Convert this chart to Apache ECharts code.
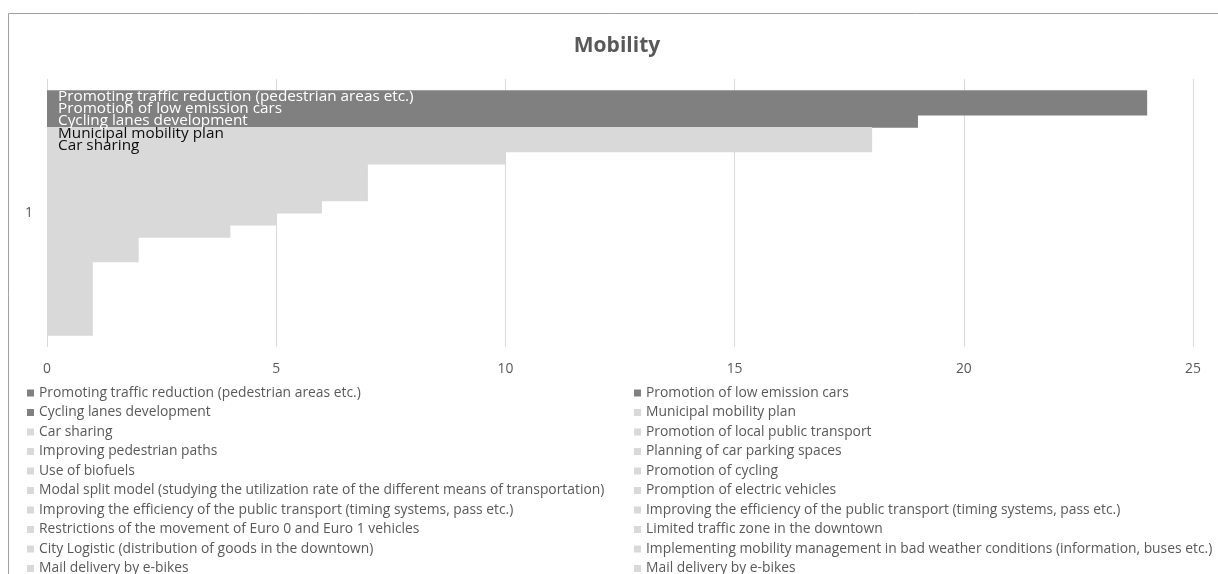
<!DOCTYPE html>
<html>
<head>
<meta charset="utf-8">
<script src="https://cdn.jsdelivr.net/npm/echarts@6/dist/echarts.min.js"></script>
<style>
  html, body { margin: 0; padding: 0; background: #ffffff; }
  #chart { width: 1218px; height: 574px; }
</style>
</head>
<body>
<div id="chart"></div>
<script>
const chartTitle = 'Mobility';
const categories = ['1'];
const seriesNames = [
  'Promoting traffic reduction (pedestrian areas etc.)',
  'Promotion of low emission cars',
  'Cycling lanes development',
  'Municipal mobility plan',
  'Car sharing',
  'Promotion of local public transport',
  'Improving pedestrian paths',
  'Planning of car parking spaces',
  'Use of biofuels',
  'Promotion of cycling',
  'Modal split model (studying the utilization rate of the different means of transportation)',
  'Promption of electric vehicles',
  'Improving the efficiency of the public transport (timing systems, pass etc.)',
  'Improving the efficiency of the public transport (timing systems, pass etc.)',
  'Restrictions of the movement of Euro 0 and Euro 1 vehicles',
  'Limited traffic zone in the downtown',
  'City Logistic (distribution of goods in the downtown)',
  'Implementing mobility management in bad weather conditions (information, buses etc.)',
  'Mail delivery by e-bikes',
  'Mail delivery by e-bikes'
];
const seriesValues = [24, 24, 19, 18, 18, 10, 7, 7, 7, 6, 5, 4, 2, 2, 1, 1, 1, 1, 1, 1];
const xTicks = { min: 0, max: 25, interval: 5 };

const FONT = '"Open Sans"';
const DARK = '#808080';
const LIGHT = '#d9d9d9';
const TEXT = '#595959';

// make duplicate names unique (invisible suffix) so each legend entry shows
const seen = {};
const uniqueNames = seriesNames.map(n => {
  seen[n] = (seen[n] || 0) + 1;
  return seen[n] > 1 ? n + '\u200B'.repeat(seen[n] - 1) : n;
});

// bars slightly overlap (13px wide, 12.25px step) so no anti-aliasing seams show
const series = uniqueNames.map((name, i) => ({
  name: name,
  type: 'bar',
  barWidth: 13,
  barGap: '-5.77%',
  data: [seriesValues[i]],
  itemStyle: { color: i < 3 ? DARK : LIGHT },
  emphasis: { disabled: true },
  label: {
    show: i < 5,
    position: 'insideLeft',
    distance: 11,
    formatter: () => seriesNames[i],
    color: i < 3 ? '#ffffff' : '#0d0d0d',
    fontFamily: FONT,
    fontSize: 15.3
  }
}));

const legendText = { color: TEXT, fontFamily: FONT, fontSize: 13.85, lineHeight: 16 };
const chart = echarts.init(document.getElementById('chart'), null, { renderer: 'canvas' });
chart.setOption({
  animation: false,
  backgroundColor: '#ffffff',
  title: {
    text: chartTitle,
    left: 612,
    textAlign: 'center',
    top: 31,
    textStyle: { color: TEXT, fontFamily: FONT, fontWeight: 'bold', fontSize: 21 }
  },
  grid: { left: 47, right: 25, top: 79, bottom: 227, containLabel: false },
  xAxis: {
    type: 'value',
    min: xTicks.min, max: xTicks.max, interval: xTicks.interval,
    axisLine: { show: false },
    axisTick: { show: false },
    axisLabel: { color: TEXT, fontFamily: FONT, fontSize: 13.85, margin: 15 },
    splitLine: { show: true, lineStyle: { color: LIGHT, width: 1 } }
  },
  yAxis: {
    type: 'category',
    data: categories,
    axisLine: { show: false },
    axisTick: { show: false },
    axisLabel: { color: TEXT, fontFamily: FONT, fontSize: 13.85, margin: 14 }
  },
  legend: [
    {
      orient: 'vertical', left: 27, top: 385, height: 260, padding: 0,
      itemWidth: 7, itemHeight: 7, itemGap: 3.5, icon: 'rect',
      selectedMode: false,
      data: uniqueNames.filter((_, i) => i % 2 === 0),
      textStyle: legendText
    },
    {
      orient: 'vertical', left: 634, top: 385, height: 260, padding: 0,
      itemWidth: 7, itemHeight: 7, itemGap: 3.5, icon: 'rect',
      selectedMode: false,
      data: uniqueNames.filter((_, i) => i % 2 === 1),
      textStyle: legendText
    }
  ],
  graphic: [{
    type: 'rect',
    shape: { x: 8.5, y: 13.5, width: 1230, height: 600 },
    style: { fill: 'none', stroke: '#a0a0a0', lineWidth: 1 },
    silent: true,
    z: 100
  }],
  series: series
});
</script>
</body>
</html>
